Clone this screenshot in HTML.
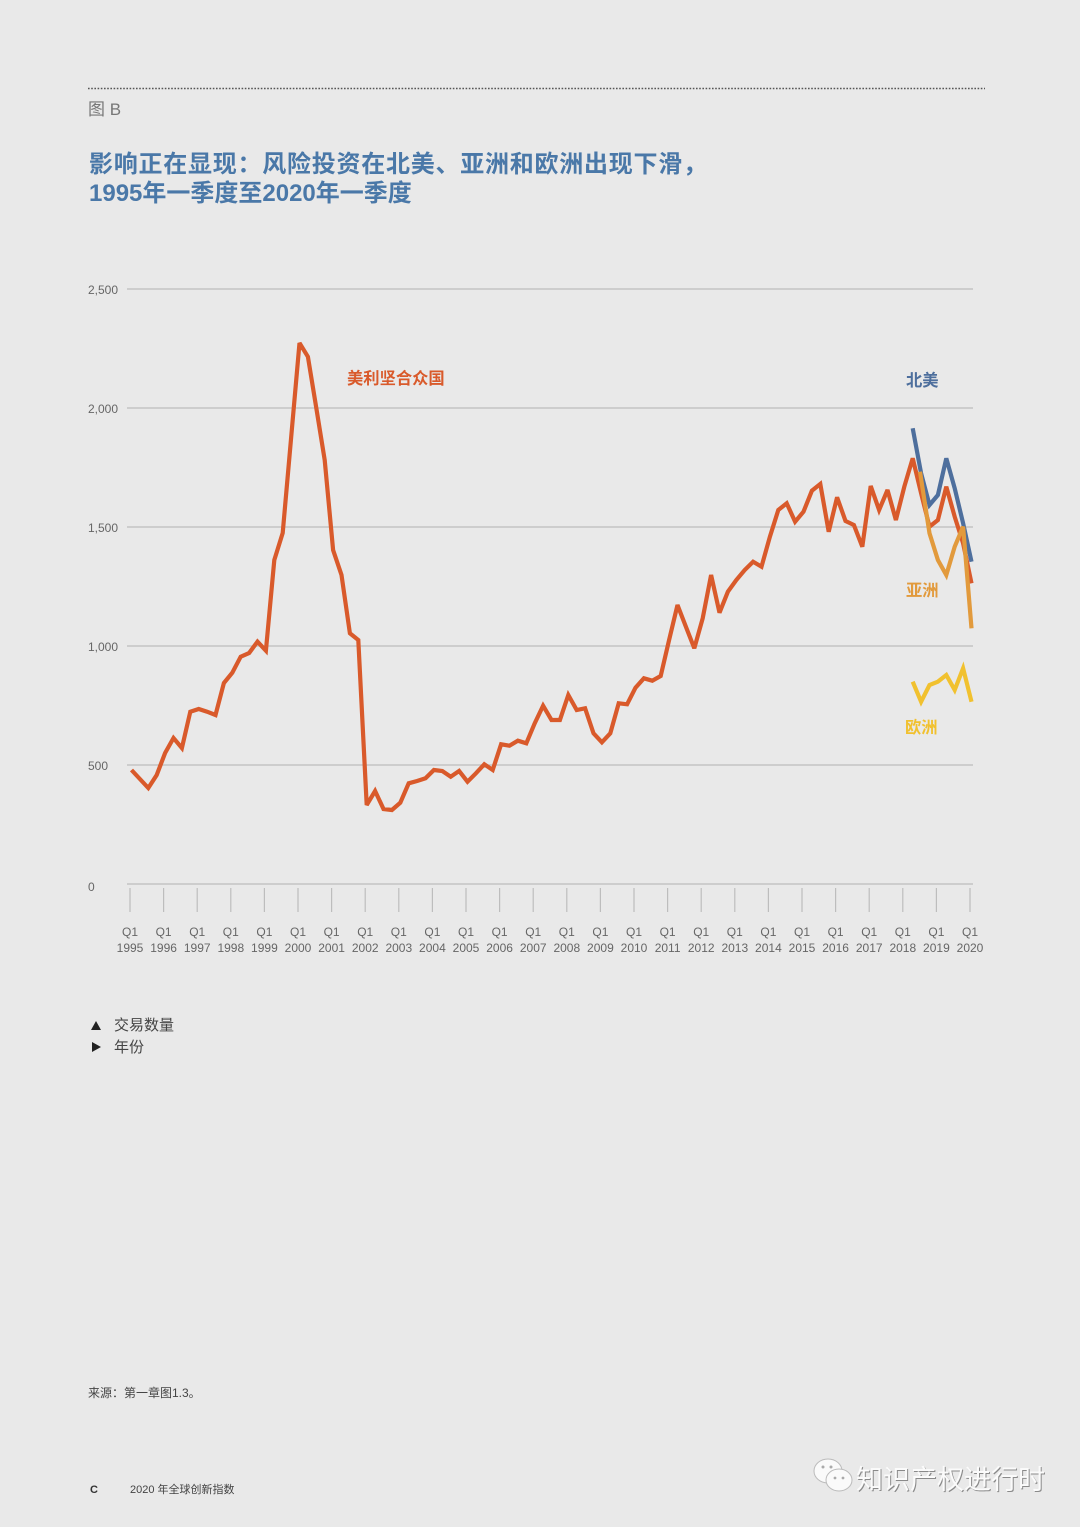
<!DOCTYPE html>
<html>
<head>
<meta charset="utf-8">
<style>
  html, body { margin:0; padding:0; background:#e9e9e9; }
  body { width:1080px; height:1527px; overflow:hidden; }
  svg { display:block; }
</style>
</head>
<body>
<svg width="1080" height="1527" viewBox="0 0 1080 1527" xmlns="http://www.w3.org/2000/svg">
  <rect x="0" y="0" width="1080" height="1527" fill="#e9e9e9"/>

  <!-- dotted top rule -->
  <line x1="88" y1="88.5" x2="985" y2="88.5" stroke="#555" stroke-width="1.6" stroke-dasharray="1.6 1.6"/>

  <!-- figure label -->
  <text x="88" y="115" font-size="17" fill="#777" font-family="Liberation Sans, Noto Sans CJK SC, sans-serif">图 B</text>

  <!-- title -->
  <text x="89" y="172" font-size="24" font-weight="bold" fill="#4a78a8" font-family="Liberation Sans, Noto Sans CJK SC, sans-serif" textLength="618" lengthAdjust="spacing">影响正在显现：风险投资在北美、亚洲和欧洲出现下滑，</text>
  <text x="89" y="201" font-size="24" font-weight="bold" fill="#4a78a8" font-family="Liberation Sans, Noto Sans CJK SC, sans-serif">1995年一季度至2020年一季度</text>

  <!-- gridlines -->
  <g stroke="#bdbdbd" stroke-width="1.2">
    <line x1="127" y1="289" x2="973" y2="289"/>
    <line x1="127" y1="408" x2="973" y2="408"/>
    <line x1="127" y1="527" x2="973" y2="527"/>
    <line x1="127" y1="646" x2="973" y2="646"/>
    <line x1="127" y1="765" x2="973" y2="765"/>
    <line x1="127" y1="884" x2="973" y2="884"/>
  </g>

  <!-- y labels -->
  <g font-family="Liberation Sans, sans-serif" font-size="12" fill="#666">
    <text x="88" y="294">2,500</text>
    <text x="88" y="413">2,000</text>
    <text x="88" y="532">1,500</text>
    <text x="88" y="651">1,000</text>
    <text x="88" y="770">500</text>
    <text x="88" y="891">0</text>
  </g>

  <!-- x ticks -->
  <g stroke="#bdbdbd" stroke-width="1.2">
    <line x1="130" y1="888" x2="130" y2="912"/>
    <line x1="163.6" y1="888" x2="163.6" y2="912"/>
    <line x1="197.2" y1="888" x2="197.2" y2="912"/>
    <line x1="230.8" y1="888" x2="230.8" y2="912"/>
    <line x1="264.4" y1="888" x2="264.4" y2="912"/>
    <line x1="298" y1="888" x2="298" y2="912"/>
    <line x1="331.6" y1="888" x2="331.6" y2="912"/>
    <line x1="365.2" y1="888" x2="365.2" y2="912"/>
    <line x1="398.8" y1="888" x2="398.8" y2="912"/>
    <line x1="432.4" y1="888" x2="432.4" y2="912"/>
    <line x1="466" y1="888" x2="466" y2="912"/>
    <line x1="499.6" y1="888" x2="499.6" y2="912"/>
    <line x1="533.2" y1="888" x2="533.2" y2="912"/>
    <line x1="566.8" y1="888" x2="566.8" y2="912"/>
    <line x1="600.4" y1="888" x2="600.4" y2="912"/>
    <line x1="634" y1="888" x2="634" y2="912"/>
    <line x1="667.6" y1="888" x2="667.6" y2="912"/>
    <line x1="701.2" y1="888" x2="701.2" y2="912"/>
    <line x1="734.8" y1="888" x2="734.8" y2="912"/>
    <line x1="768.4" y1="888" x2="768.4" y2="912"/>
    <line x1="802" y1="888" x2="802" y2="912"/>
    <line x1="835.6" y1="888" x2="835.6" y2="912"/>
    <line x1="869.2" y1="888" x2="869.2" y2="912"/>
    <line x1="902.8" y1="888" x2="902.8" y2="912"/>
    <line x1="936.4" y1="888" x2="936.4" y2="912"/>
    <line x1="970" y1="888" x2="970" y2="912"/>
  </g>

  <!-- x labels -->
  <g font-family="Liberation Sans, sans-serif" font-size="12" fill="#666" text-anchor="middle">
    <text x="130" y="936">Q1</text><text x="130" y="952">1995</text>
    <text x="163.6" y="936">Q1</text><text x="163.6" y="952">1996</text>
    <text x="197.2" y="936">Q1</text><text x="197.2" y="952">1997</text>
    <text x="230.8" y="936">Q1</text><text x="230.8" y="952">1998</text>
    <text x="264.4" y="936">Q1</text><text x="264.4" y="952">1999</text>
    <text x="298" y="936">Q1</text><text x="298" y="952">2000</text>
    <text x="331.6" y="936">Q1</text><text x="331.6" y="952">2001</text>
    <text x="365.2" y="936">Q1</text><text x="365.2" y="952">2002</text>
    <text x="398.8" y="936">Q1</text><text x="398.8" y="952">2003</text>
    <text x="432.4" y="936">Q1</text><text x="432.4" y="952">2004</text>
    <text x="466" y="936">Q1</text><text x="466" y="952">2005</text>
    <text x="499.6" y="936">Q1</text><text x="499.6" y="952">2006</text>
    <text x="533.2" y="936">Q1</text><text x="533.2" y="952">2007</text>
    <text x="566.8" y="936">Q1</text><text x="566.8" y="952">2008</text>
    <text x="600.4" y="936">Q1</text><text x="600.4" y="952">2009</text>
    <text x="634" y="936">Q1</text><text x="634" y="952">2010</text>
    <text x="667.6" y="936">Q1</text><text x="667.6" y="952">2011</text>
    <text x="701.2" y="936">Q1</text><text x="701.2" y="952">2012</text>
    <text x="734.8" y="936">Q1</text><text x="734.8" y="952">2013</text>
    <text x="768.4" y="936">Q1</text><text x="768.4" y="952">2014</text>
    <text x="802" y="936">Q1</text><text x="802" y="952">2015</text>
    <text x="835.6" y="936">Q1</text><text x="835.6" y="952">2016</text>
    <text x="869.2" y="936">Q1</text><text x="869.2" y="952">2017</text>
    <text x="902.8" y="936">Q1</text><text x="902.8" y="952">2018</text>
    <text x="936.4" y="936">Q1</text><text x="936.4" y="952">2019</text>
    <text x="970" y="936">Q1</text><text x="970" y="952">2020</text>
  </g>

  <!-- US series -->
  <polyline fill="none" stroke="#d95a2b" stroke-width="4.2" stroke-linejoin="miter" stroke-miterlimit="3"
    points="131.5,770 139.9,779 148.3,788 156.7,775 165.1,753 173.5,738 181.9,748 190.3,711.7 198.7,709 207.1,711.7 215.5,715 223.9,683 232.3,672.7 240.7,656.7 249.1,653 257.5,641.7 265.9,650.7 274.3,560 282.7,533 291.1,438 299.5,343 307.9,356.7 316.3,408 324.7,460 333.1,550 341.5,575 349.9,633.3 358.3,640 366.7,805 375.1,791 383.5,809 391.9,810 400.3,802.7 408.7,783.3 417.1,781 425.5,778.3 433.9,770 442.3,771 450.7,776.7 459.1,771 467.5,781.7 475.9,773.3 484.3,764.3 492.7,770 501.1,744.3 509.5,745.7 517.9,740.7 526.3,743.3 534.7,723.3 543.1,705.7 551.5,720 559.9,720 568.3,695 576.7,710 585.1,708.3 593.5,733.3 601.9,742.3 610.3,733.3 618.7,703.3 627.1,704.3 635.5,687.7 643.9,678.3 652.3,680.7 660.7,676 669.1,640 677.5,605 685.9,626.7 694.3,648.3 702.7,618.3 711.1,575 719.5,612.7 727.9,591.7 736.3,580 744.7,570 753.1,561.7 761.5,566.7 769.9,536.7 778.3,510 786.7,503.3 795.1,521.7 803.5,511.7 811.9,490.7 820.3,484 828.7,531.7 837.1,497.3 845.5,521 853.9,525 862.3,546.7 870.7,486 879.1,510 887.5,490 895.9,520 904.3,486.7 912.7,458.3 921.1,493.3 929.5,526.7 937.9,520 946.3,486.7 954.7,516.7 963.1,543.3 971.5,583.3"/>

  <!-- North America -->
  <polyline fill="none" stroke="#4e6f9d" stroke-width="4.2" stroke-linejoin="miter"
    points="912.7,428.3 921.1,473.3 929.5,505 937.9,495 946.3,458.3 954.7,488.3 963.1,523.3 971.5,561.7"/>

  <!-- Asia -->
  <polyline fill="none" stroke="#e29a3c" stroke-width="4.2" stroke-linejoin="miter"
    points="920,471.7 929.5,533.3 937.9,560 946.3,575 954.7,546.7 963.1,526.7 971.5,628.3"/>

  <!-- Europe -->
  <polyline fill="none" stroke="#f1c12f" stroke-width="4.2" stroke-linejoin="miter"
    points="912.7,681.7 921.1,701.7 929.5,685 937.9,681.7 946.3,675 954.7,690 963.1,668.3 971.5,701.7"/>

  <!-- series labels -->
  <g font-family="Liberation Sans, Noto Sans CJK SC, sans-serif" font-size="16.3" font-weight="bold">
    <text x="347" y="384" fill="#d95a2b">美利坚合众国</text>
    <text x="906" y="386" fill="#4e6f9d">北美</text>
    <text x="906" y="596" fill="#e29a3c">亚洲</text>
    <text x="905" y="733" fill="#f1c12f">欧洲</text>
  </g>

  <!-- legend -->
  <g font-family="Liberation Sans, Noto Sans CJK SC, sans-serif" fill="#444">
    <polygon points="91,1030 96,1021 101,1030" fill="#222"/>
    <text x="114" y="1030" font-size="15">交易数量</text>
    <polygon points="92,1042 101,1047 92,1052" fill="#222"/>
    <text x="114" y="1052" font-size="15">年份</text>
  </g>

  <!-- source -->
  <text x="88" y="1397" font-family="Liberation Sans, Noto Sans CJK SC, sans-serif" font-size="12" fill="#444">来源：第一章图1.3。</text>

  <!-- footer -->
  <text x="90" y="1493" font-family="Liberation Sans, sans-serif" font-size="11" font-weight="bold" fill="#333">C</text>
  <text x="130" y="1493" font-family="Liberation Sans, Noto Sans CJK SC, sans-serif" font-size="11" fill="#444">2020 年全球创新指数</text>

  <!-- watermark -->
  <g>
    <ellipse cx="828" cy="1471" rx="14" ry="12" fill="#fafafa" stroke="#bbb" stroke-width="1"/>
    <ellipse cx="839" cy="1480" rx="13" ry="11" fill="#fafafa" stroke="#bbb" stroke-width="1"/>
    <circle cx="823" cy="1467" r="1.5" fill="#aaa"/>
    <circle cx="831" cy="1467" r="1.5" fill="#aaa"/>
    <circle cx="835" cy="1478" r="1.4" fill="#aaa"/>
    <circle cx="843" cy="1478" r="1.4" fill="#aaa"/>
    <text x="857" y="1490" font-family="Liberation Sans, Noto Sans CJK SC, sans-serif" font-size="27" fill="#8a8a8a">知识产权进行时</text>
    <text x="856" y="1489" font-family="Liberation Sans, Noto Sans CJK SC, sans-serif" font-size="27" fill="#fbfbfb">知识产权进行时</text>
  </g>
</svg>
</body>
</html>
